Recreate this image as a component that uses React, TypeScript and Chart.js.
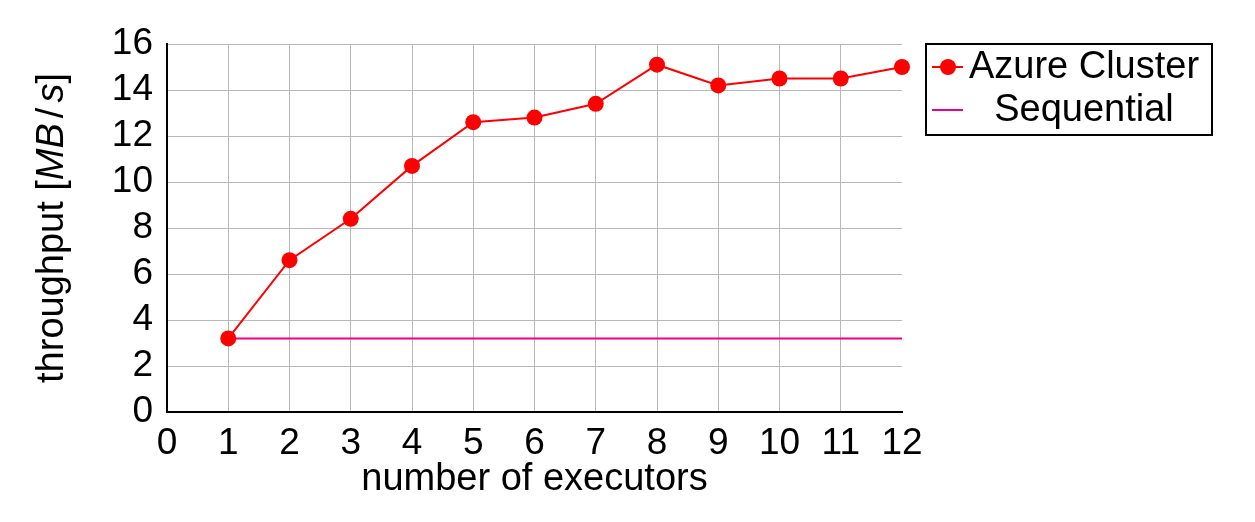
import React, { useEffect, useRef } from "react";
import { Chart, registerables } from "chart.js";

Chart.register(...registerables);

const executors = [1, 2, 3, 4, 5, 6, 7, 8, 9, 10, 11, 12];
const azureThroughput = [3.2, 6.6, 8.4, 10.7, 12.6, 12.8, 13.4, 15.1, 14.2, 14.5, 14.5, 15.0];
const sequentialX = [1, 12];
const sequentialY = [3.2, 3.2];
const seriesLabels = ["Azure Cluster", "Sequential"];
const xTitle = "number of executors";
const yTitleParts: [string, boolean][] = [
  ["throughput [", false],
  ["MB", true],
  ["/", false],
  ["s", true],
  ["]", false],
];

const FONT = '"Liberation Sans", Arial, Helvetica, sans-serif';
const RED = "#ff0000";
const MAGENTA = "#ec008c";

const overlayPlugin = {
  id: "overlay",
  afterDraw(chart: any) {
    const ctx = chart.ctx as CanvasRenderingContext2D;
    const area = chart.chartArea;
    ctx.save();
    // x title
    ctx.fillStyle = "#000";
    ctx.font = `38px ${FONT}`;
    ctx.textAlign = "center";
    ctx.textBaseline = "alphabetic";
    ctx.fillText(xTitle, (area.left + area.right) / 2, 490);

    // y title (mixed italic)
    ctx.save();
    const cy = (area.top + area.bottom) / 2;
    ctx.translate(63, cy);
    ctx.rotate(-Math.PI / 2);
    ctx.textBaseline = "alphabetic";
    ctx.textAlign = "left";
    const gap = 5;
    const widths = yTitleParts.map(([t, it]) => {
      ctx.font = `${it ? "italic " : ""}38px ${FONT}`;
      return ctx.measureText(t).width + (t === "/" ? gap * 2 : 0);
    });
    const total = widths.reduce((a, b) => a + b, 0);
    let x = -total / 2;
    yTitleParts.forEach(([t, it], i) => {
      ctx.font = `${it ? "italic " : ""}38px ${FONT}`;
      ctx.fillText(t, x + (t === "/" ? gap : 0), 0);
      x += widths[i];
    });
    ctx.restore();

    // legend
    const lx = 926, ly = 44, lw = 286, lh = 91;
    ctx.fillStyle = "#fff";
    ctx.fillRect(lx, ly, lw, lh);
    ctx.strokeStyle = "#000";
    ctx.lineWidth = 2;
    ctx.strokeRect(lx, ly, lw, lh);
    const rows = [67, 110];
    // row 1
    ctx.strokeStyle = RED;
    ctx.lineWidth = 2;
    ctx.beginPath();
    ctx.moveTo(932, rows[0]);
    ctx.lineTo(963, rows[0]);
    ctx.stroke();
    ctx.fillStyle = RED;
    ctx.beginPath();
    ctx.arc(948, rows[0], 8, 0, Math.PI * 2);
    ctx.fill();
    // row 2
    ctx.strokeStyle = MAGENTA;
    ctx.beginPath();
    ctx.moveTo(932, rows[1]);
    ctx.lineTo(963, rows[1]);
    ctx.stroke();
    ctx.fillStyle = "#000";
    ctx.font = `38px ${FONT}`;
    ctx.textAlign = "center";
    ctx.textBaseline = "middle";
    ctx.fillText(seriesLabels[0], 1084, rows[0] + 1);
    ctx.fillText(seriesLabels[1], 1084, rows[1] + 1);
    ctx.restore();
  },
};

export default function App() {
  const ref = useRef<HTMLCanvasElement | null>(null);
  useEffect(() => {
    if (!ref.current) return;
    const chart = new Chart(ref.current, {
      type: "line",
      data: {
        datasets: [
          {
            label: seriesLabels[0],
            data: executors.map((x, i) => ({ x, y: azureThroughput[i] })),
            borderColor: RED,
            backgroundColor: RED,
            borderWidth: 2,
            pointRadius: 8,
            pointHoverRadius: 8,
            pointBackgroundColor: RED,
            pointBorderWidth: 0,
            tension: 0,
            clip: false,
            order: 1,
          },
          {
            label: seriesLabels[1],
            data: sequentialX.map((x, i) => ({ x, y: sequentialY[i] })),
            borderColor: MAGENTA,
            backgroundColor: MAGENTA,
            borderWidth: 2,
            pointRadius: 0,
            tension: 0,
            clip: false,
            order: 2,
          },
        ],
      },
      options: {
        animation: false,
        responsive: false,
        maintainAspectRatio: false,
        layout: { padding: { top: 44, right: 353, bottom: 0, left: 0 } },
        plugins: { legend: { display: false }, tooltip: { enabled: false } },
        scales: {
          x: {
            type: "linear",
            min: 0,
            max: 12,
            afterFit: (s: any) => {
              s.height = 110;
            },
            ticks: {
              stepSize: 1,
              color: "#000",
              font: { family: FONT, size: 37 },
              padding: 10,
              maxRotation: 0,
              autoSkip: false,
            },
            grid: {
              color: (c: any) => (c.tick && c.tick.value === 12 ? "rgba(0,0,0,0)" : "#b8b8b8"),
              lineWidth: 1,
              drawTicks: false,
            },
            border: { color: "#000", width: 2 },
          },
          y: {
            min: 0,
            max: 16,
            afterFit: (s: any) => {
              s.width = 167;
            },
            ticks: {
              stepSize: 2,
              color: "#000",
              font: { family: FONT, size: 37 },
              padding: 14,
              autoSkip: false,
            },
            grid: { color: "#b8b8b8", lineWidth: 1, drawTicks: false },
            border: { color: "#000", width: 2 },
          },
        },
      },
      plugins: [overlayPlugin],
    });
    return () => chart.destroy();
  }, []);
  return (
    <div style={{ position: "absolute", left: 0, top: 0, width: 1255, height: 522, background: "#fff" }}>
      <canvas ref={ref} width={1255} height={522} style={{ width: 1255, height: 522, display: "block" }} />
    </div>
  );
}
